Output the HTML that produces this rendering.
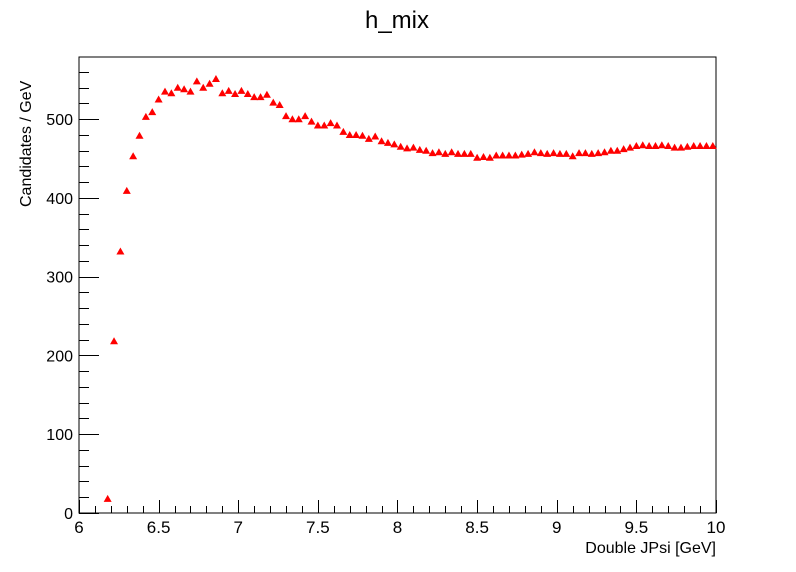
<!DOCTYPE html>
<html><head><meta charset="utf-8"><style>
body{margin:0;background:#fff;}
svg{display:block;font-family:"Liberation Sans",Arial,sans-serif;}
</style></head><body>
<svg id="chart" width="796" height="572" viewBox="0 0 796 572">
<rect width="796" height="572" fill="#fff"/>
<text x="397" y="28" font-size="24" text-anchor="middle">h_mix</text>
<g id="axes"></g>
<g id="marks"></g>
<text x="716" y="553" font-size="16" text-anchor="end">Double JPsi [GeV]</text>
<text transform="translate(31,207) rotate(-90)" font-size="16" text-anchor="start">Candidates / GeV</text>
</svg>
<script>
const binCenters=[];for(let i=0;i<96;i++)binCenters.push(+(6.18+0.04*i).toFixed(2));
const counts=[18,218,332,409,453,479,503,509,525,535,533,540,538,535,548,540,545,551,533,536,532,536,532,528,528,531,521,518,504,500,500,504,497,492,492,495,492,484,480,480,479,475,478,472,470,468,465,463,464,461,460,457,458,456,458,456,456,456,451,452,451,454,454,454,454,455,456,458,457,456,457,456,456,453,457,457,456,457,458,460,460,462,464,466,467,466,466,467,466,464,464,465,466,466,466,466];
const xTicks=[6,6.5,7,7.5,8,8.5,9,9.5,10];
const xTickLabels=["6","6.5","7","7.5","8","8.5","9","9.5","10"];
const yTicks=[0,100,200,300,400,500];
const yTickLabels=["0","100","200","300","400","500"];
const X0=79,X1=716,Y0=513,Y1=57,xmin=6,xmax=10,ymin=0,ymax=579;
const sx=v=>X0+(v-xmin)/(xmax-xmin)*(X1-X0);
const sy=v=>Y0-(v-ymin)/(ymax-ymin)*(Y0-Y1);
const NS="http://www.w3.org/2000/svg";
const ax=document.getElementById('axes'),mk=document.getElementById('marks');
function el(t,a,p){const e=document.createElementNS(NS,t);for(const k in a)e.setAttribute(k,a[k]);p.appendChild(e);return e;}
const fr=el('rect',{x:X0,y:Y1,width:X1-X0,height:Y0-Y1,fill:'none',stroke:'#000','stroke-width':1},ax);


for(let v=6;v<=10.0001;v+=0.1){const x=Math.round(sx(v))+0.5;const major=Math.abs(v*2-Math.round(v*2))<1e-6;
const t=el('line',{x1:x,x2:x,y1:Y0,y2:Y0-(major?13:7),stroke:'#000'},ax);

}
xTicks.forEach((v,i)=>{const t=el('text',{x:sx(v),y:533,'font-size':17,'text-anchor':'middle'},ax);t.textContent=xTickLabels[i];

});
for(let v=0;v<=ymax;v+=20){const y=Math.round(sy(v))+0.5;const major=v%100===0;
const t=el('line',{x1:X0,x2:X0+(major?20:10),y1:y,y2:y,stroke:'#000'},ax);

}
yTicks.forEach((v,i)=>{const t=el('text',{x:X0-6,y:sy(v)+6,'font-size':16,'text-anchor':'end'},ax);t.textContent=yTickLabels[i];

});
binCenters.forEach((c,i)=>{const x=sx(c),y=sy(counts[i]);
const p=el('polygon',{points:`${x-4},${y+3} ${x+4},${y+3} ${x},${y-4}`,fill:'#ff0000'},mk);

});
</script>
</body></html>
